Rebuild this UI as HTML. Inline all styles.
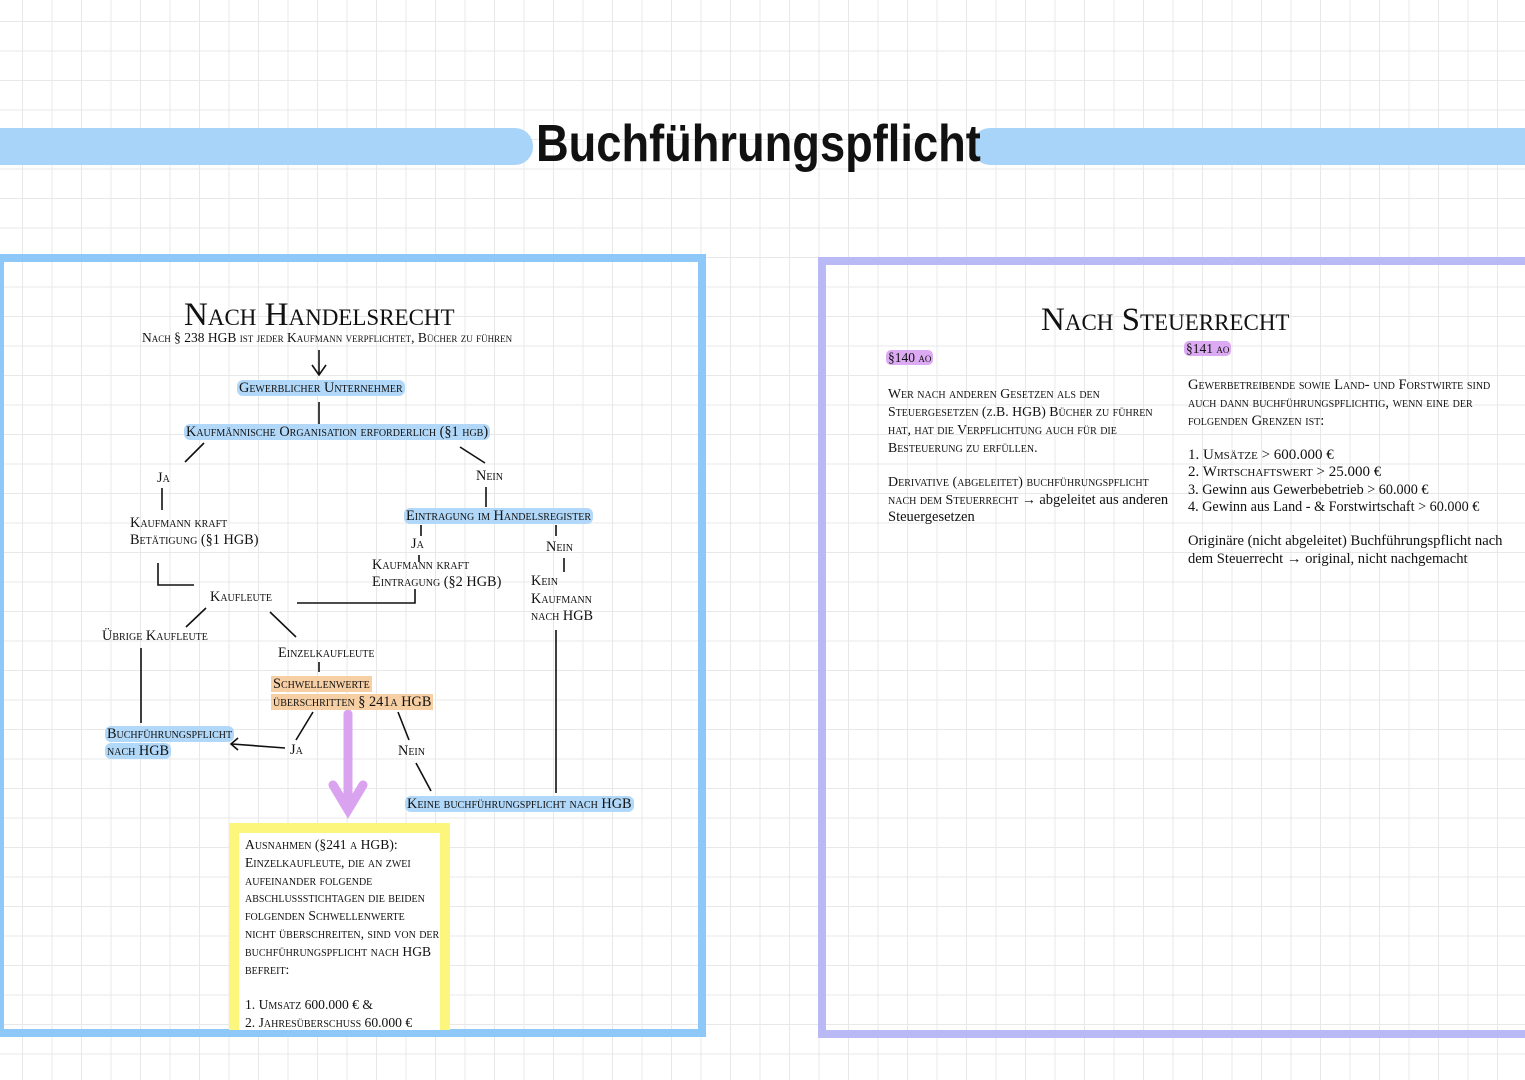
<!DOCTYPE html>
<html><head><meta charset="utf-8"><style>
body{margin:0;width:1525px;height:1080px;overflow:hidden;position:relative;background:#fff;
background-image:linear-gradient(#e8e8e8 1px,transparent 1px),linear-gradient(90deg,#e8e8e8 1px,transparent 1px);
background-size:29.5px 29.5px;background-position:22px 21px;font-family:"Liberation Serif",serif;color:#111}
.t{position:absolute;font-variant:small-caps;white-space:nowrap;font-size:14.3px;line-height:14px}
.b{background:#b1d8f8;border-radius:6px;padding:0 2px}
.o{background:#f7cfa4;padding:0 2px}
.p{background:#dcaaf2;border-radius:5px;padding:0 2px}
.box{position:absolute}
</style></head><body>
<div class="box" style="left:0;top:128px;width:533px;height:37px;background:#a9d4fa;border-radius:0 18px 18px 0"></div>
<div class="box" style="left:972px;top:128px;width:560px;height:37px;background:#a9d4fa;border-radius:18px 0 0 18px"></div>
<div class="t" style="left:536px;top:112px;font-variant:normal;font-family:'Liberation Sans',sans-serif;font-weight:bold;font-size:52px;line-height:64px;transform:scaleX(0.87);transform-origin:left;color:#111">Buchführungspflicht</div>

<div class="box" style="left:0;top:254px;width:694px;height:767px;border:8px solid #8dc8f9;border-left:4px solid #8dc8f9"></div>
<div class="box" style="left:818px;top:257px;width:700px;height:765px;border:8px solid #b9b9f6"></div>

<svg width="1525" height="1080" style="position:absolute;left:0;top:0" stroke="#111" stroke-width="1.6" fill="none">
<path d="M319 350V374M312 365L319 375L326 365"/>
<path d="M319 402V424M204 443L185 462M460 447L485 463M162 488V510M158 563V585H194M297 603H415V589M486 487V507M421 525V536M419 555V562M556 525V536M564 558V572M556 630V793M206 608L186 627M270 612L296 637M141 648V723M319 662V672M313 712L296 740M398 712L409 740M285 748L232 744M238 738L231 744L238 750M416 763L431 791"/>
<g stroke="#d9a3f0" stroke-width="9" stroke-linecap="round"><path d="M348 714V808M333 785L348 810L363 785"/></g>
</svg>

<div class="box" style="left:229px;top:823px;width:201px;height:197px;border:10px solid #fcf77c;border-bottom:none;background:#fff"></div>

<div class="t" style="left:184px;top:296px;font-size:33px;line-height:38px">Nach Handelsrecht</div>
<div class="t" style="left:142px;top:331px;font-size:13.5px">Nach § 238 HGB ist jeder Kaufmann verpflichtet, Bücher zu führen</div>
<div class="t" style="left:237px;top:381px"><span class="b">Gewerblicher Unternehmer</span></div>
<div class="t" style="left:184px;top:425px"><span class="b">Kaufmännische Organisation erforderlich (§1 hgb)</span></div>
<div class="t" style="left:157px;top:471px">Ja</div>
<div class="t" style="left:130px;top:515px;line-height:17px">Kaufmann kraft<br>Betätigung (§1 HGB)</div>
<div class="t" style="left:210px;top:590px">Kaufleute</div>
<div class="t" style="left:476px;top:469px">Nein</div>
<div class="t" style="left:404px;top:509px"><span class="b">Eintragung im Handelsregister</span></div>
<div class="t" style="left:411px;top:537px">Ja</div>
<div class="t" style="left:372px;top:557px;line-height:17px">Kaufmann kraft<br>Eintragung (§2 HGB)</div>
<div class="t" style="left:546px;top:540px">Nein</div>
<div class="t" style="left:531px;top:573px;line-height:17.5px">Kein<br>Kaufmann<br>nach HGB</div>
<div class="t" style="left:102px;top:629px">Übrige Kaufleute</div>
<div class="t" style="left:278px;top:646px">Einzelkaufleute</div>
<div class="t" style="left:271px;top:675px;line-height:18px"><span class="o">Schwellenwerte</span><br><span class="o">überschritten § 241a HGB</span></div>
<div class="t" style="left:105px;top:726px;line-height:17px"><span class="b">Buchführungspflicht</span><br><span class="b">nach HGB</span></div>
<div class="t" style="left:290px;top:743px">Ja</div>
<div class="t" style="left:398px;top:744px">Nein</div>
<div class="t" style="left:405px;top:797px"><span class="b">Keine buchführungspflicht nach HGB</span></div>
<div class="t" style="left:245px;top:836px;line-height:17.8px;font-size:13.6px">Ausnahmen (§241 a HGB):<br>Einzelkaufleute, die an zwei<br>aufeinander folgende<br>abschlussstichtagen die beiden<br>folgenden Schwellenwerte<br>nicht überschreiten, sind von der<br>buchführungspflicht nach HGB<br>befreit:<br><br>1. Umsatz 600.000 € &amp;<br>2. Jahresüberschuss 60.000 €</div>

<div class="t" style="left:1041px;top:301px;font-size:33px;line-height:38px">Nach Steuerrecht</div>
<div class="t" style="left:886px;top:351px;font-size:13.5px"><span class="p">§140 ao</span></div>
<div class="t" style="left:1184px;top:342px;font-size:13.5px"><span class="p">§141 ao</span></div>
<div class="t" style="left:888px;top:385px;line-height:18px;font-size:13.8px">Wer nach anderen Gesetzen als den<br>Steuergesetzen (z.B. HGB) Bücher zu führen<br>hat, hat die Verpflichtung auch für die<br>Besteuerung zu erfüllen.</div>
<div class="t" style="left:888px;top:474px;line-height:17.5px;font-size:14px">Derivative (abgeleitet) buchführungspflicht<br>nach dem Steuerrecht → <span style="font-variant:normal;font-size:14.5px">abgeleitet aus anderen</span><br><span style="font-variant:normal;font-size:14.5px">Steuergesetzen</span></div>
<div class="t" style="left:1188px;top:376px;line-height:18px;font-size:14.6px">Gewerbetreibende sowie Land- und Forstwirte sind<br>auch dann buchführungspflichtig, wenn eine der<br>folgenden Grenzen ist:</div>
<div class="t" style="left:1188px;top:447px;line-height:17.3px;font-size:15px">1. Umsätze &gt; 600.000 €<br>2. Wirtschaftswert &gt; 25.000 €<br><span style="font-variant:normal;font-size:14.2px">3. Gewinn aus Gewerbebetrieb &gt; 60.000 €</span><br><span style="font-variant:normal;font-size:14.2px">4. Gewinn aus Land - &amp; Forstwirtschaft &gt; 60.000 €</span></div>
<div class="t" style="left:1188px;top:533px;line-height:17.5px;font-variant:normal;font-size:14.6px">Originäre (nicht abgeleitet) Buchführungspflicht nach<br>dem Steuerrecht → original, nicht nachgemacht</div>
</body></html>
